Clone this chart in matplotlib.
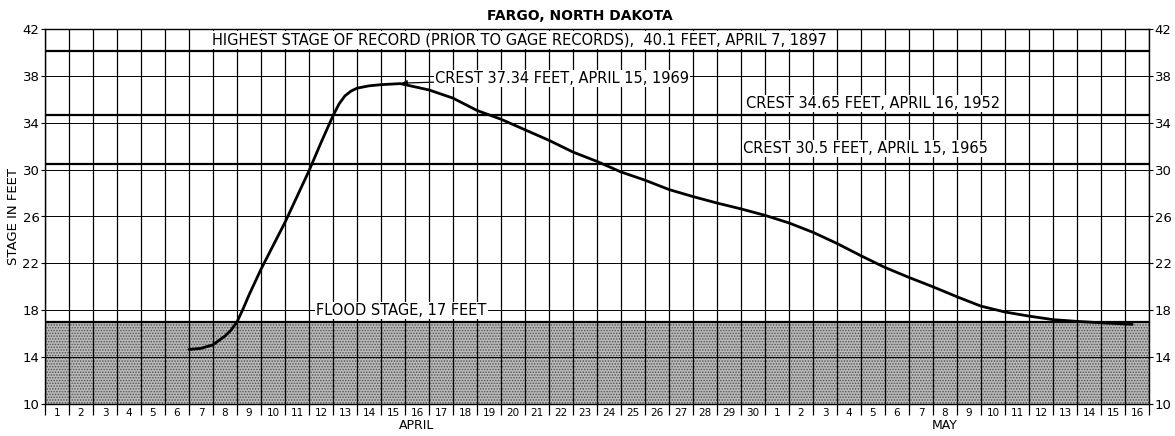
import numpy as np
import matplotlib.pyplot as plt

# -------------------------------
# DATA (day 0 = start of April 1)
# -------------------------------
april_days = list(range(1, 31))
may_days = list(range(1, 17))

day_pos = [6.0, 6.5, 7.0, 7.5, 7.75, 8.0, 8.25, 8.5, 9.0, 10.0, 11.0, 11.5, 12.0,
           12.25, 12.5, 12.75, 13.0, 13.5, 14.0, 14.8, 16.0, 17.0, 18.0, 19.0,
           20.0, 21.0, 22.0, 23.0, 24.0, 25.0, 26.0, 27.0, 28.0, 29.0, 30.0, 31.0,
           32.0, 33.0, 34.0, 35.0, 36.0, 37.0, 38.0, 39.0, 40.0, 41.0, 42.0, 43.0,
           44.0, 45.3]
stage = [14.65, 14.75, 15.05, 15.8, 16.3, 17.0, 18.1, 19.3, 21.5, 25.5, 29.9, 32.3, 34.6,
         35.6, 36.3, 36.7, 36.95, 37.15, 37.25, 37.34, 36.8, 36.1, 35.05, 34.3,
         33.4, 32.5, 31.5, 30.7, 29.8, 29.1, 28.3, 27.7, 27.15, 26.65, 26.1, 25.45,
         24.65, 23.7, 22.65, 21.65, 20.8, 20.0, 19.15, 18.35, 17.85, 17.5, 17.2, 17.05,
         16.93, 16.8]

record_stage = 40.1
crest_1952 = 34.65
crest_1965 = 30.5
flood_stage = 17
y_ticks = [10, 14, 18, 22, 26, 30, 34, 38, 42]

# -------------------------------
# FIGURE
# -------------------------------
plt.rcParams["hatch.linewidth"] = 0.7
fig = plt.figure(figsize=(11.75, 4.36), dpi=100)
ax = fig.add_axes([45 / 1175, 32 / 436, 1104 / 1175, 375 / 436])

n_days = len(april_days) + len(may_days)
ax.set_xlim(0, n_days)
ax.set_ylim(10, 42)

# stippled area below flood stage
ax.fill_between([0, n_days], 10, flood_stage, facecolor="#b9b9b9",
                hatch="......", edgecolor="#505050", linewidth=0, zorder=0.5)

# grid
for d in range(n_days + 1):
    ax.axvline(d, color="black", lw=0.9, zorder=1)
for yv in y_ticks:
    ax.axhline(yv, color="black", lw=0.7, zorder=1)

# reference stages
for yv in [record_stage, crest_1952, crest_1965, flood_stage]:
    ax.axhline(yv, color="black", lw=1.6, zorder=2)

# hydrograph
ax.plot(day_pos, stage, color="black", lw=2.0, zorder=4,
        solid_capstyle="round", solid_joinstyle="round")

fs = 10.5
box = dict(facecolor="white", edgecolor="none", pad=0.8)
ax.text(6.96, 41.07, "HIGHEST STAGE OF RECORD (PRIOR TO GAGE RECORDS),  40.1 FEET, APRIL 7, 1897",
        fontsize=fs, ha="left", va="center", bbox=box, zorder=5)
ax.annotate("CREST 37.34 FEET, APRIL 15, 1969", xy=(14.85, 37.38), xytext=(16.25, 37.8),
            fontsize=fs, ha="left", va="center", bbox=box, zorder=5,
            arrowprops=dict(arrowstyle="-|>", color="black", lw=0.9,
                            shrinkA=0, shrinkB=0, mutation_scale=8))
ax.text(39.8, 35.66, "CREST 34.65 FEET, APRIL 16, 1952", fontsize=fs,
        ha="right", va="center", bbox=box, zorder=5)
ax.text(39.3, 31.8, "CREST 30.5 FEET, APRIL 15, 1965", fontsize=fs,
        ha="right", va="center", bbox=box, zorder=5)
ax.text(11.3, 18.0, "FLOOD STAGE, 17 FEET", fontsize=fs,
        ha="left", va="center", bbox=box, zorder=5)

# axes and ticks
ax.set_yticks(y_ticks)
ax.tick_params(axis="y", which="both", left=True, right=True, labelleft=True,
               labelright=True, length=3, pad=1, labelsize=9.5)

ax.set_xticks(np.arange(n_days) + 0.5)
ax.set_xticklabels([str(d) for d in april_days + may_days])
ax.set_xticks(np.arange(n_days + 1), minor=True)
ax.tick_params(axis="x", which="major", length=0, pad=3, labelsize=7.5)
ax.tick_params(axis="x", which="minor", length=8, width=0.9, direction="out")

for s in ax.spines.values():
    s.set_linewidth(1.0)

trans = ax.get_xaxis_transform()
ax.text(15.5, -0.058, "APRIL", transform=trans, ha="center", va="center", fontsize=9)
ax.text(37.5, -0.058, "MAY", transform=trans, ha="center", va="center", fontsize=9)

ax.set_ylabel("STAGE IN FEET", fontsize=9.5, labelpad=2)
fig.text(580 / 1175, 1 - 16 / 436, "FARGO, NORTH DAKOTA", ha="center", va="center",
         fontsize=10, fontweight="bold")

fig.savefig("out.png", dpi=100)
